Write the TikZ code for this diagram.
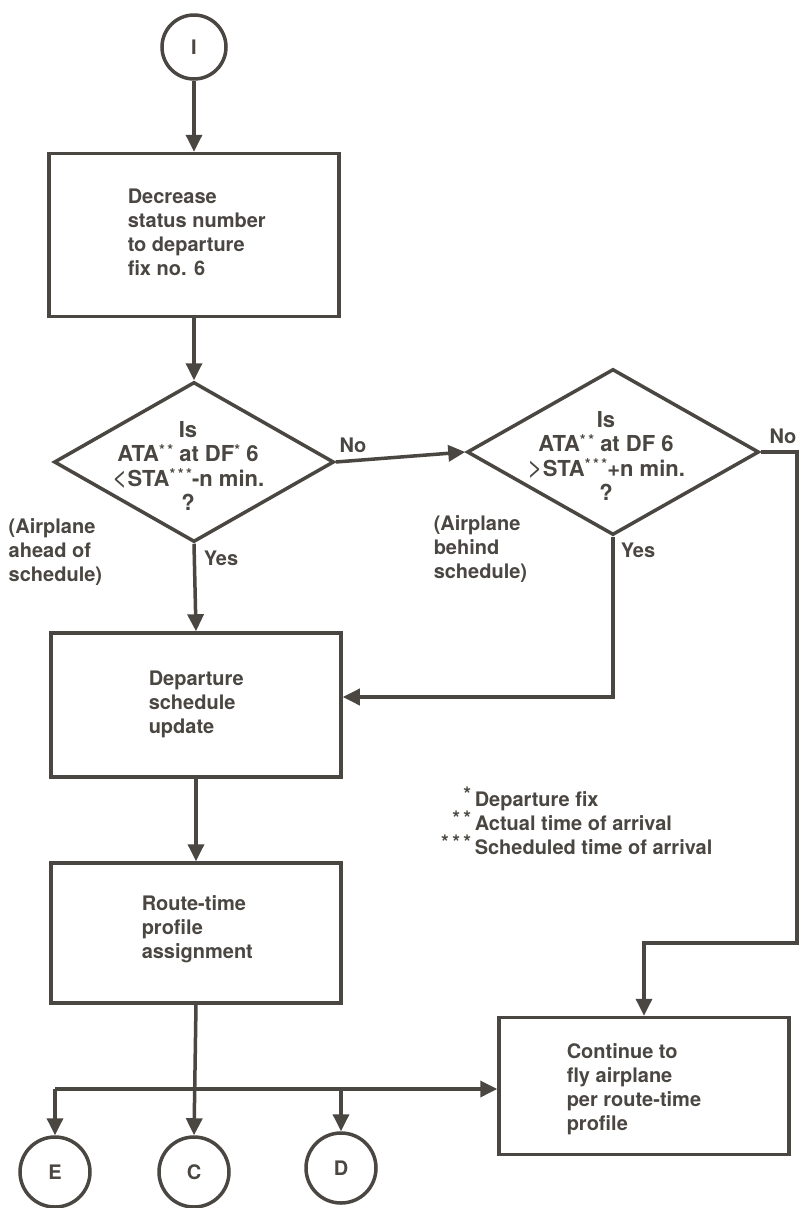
\documentclass[tikz,border=0pt]{standalone}
\usepackage{fontspec}
\setmainfont{TeX Gyre Heros}
\usetikzlibrary{shapes.geometric,arrows.meta}
\definecolor{ink}{HTML}{4A4642}
% small raised asterisks after abbreviations
\newcommand\astr[1]{\raisebox{.3em}{\fontsize{15}{15}\selectfont #1}}
% larger comparison signs
\newcommand\cmpsign[1]{{\mdseries\fontsize{27}{24}\selectfont #1}}
\begin{document}
\begin{tikzpicture}[x=1pt,y=-1pt,
  color=ink, line width=3.5pt,
  font=\bfseries\fontsize{20}{24}\selectfont,
  stepbox/.style={draw, rectangle, inner sep=0pt, minimum width=290pt},
  dia/.style={draw, diamond, inner sep=0pt},
  diatext/.style={inner sep=0pt, align=center, font=\bfseries\fontsize{22}{24.5}\selectfont},
  conn/.style={draw, circle, inner sep=0pt},
  arr/.style={-{Triangle[length=17pt,width=16pt]}},
  txt/.style={inner sep=0pt, align=left, anchor=north west},
  lab/.style={inner sep=0pt}
]
\useasboundingbox[fill=white] (0,0) rectangle (799,1208);

% connectors (circles)
\node[conn, minimum size=64pt] (I) at (194,47) {I};
\node[conn, minimum size=70pt] (E) at (55,1172) {E};
\node[conn, minimum size=70pt] (C) at (194,1172) {C};
\node[conn, minimum size=70pt] (D) at (341,1168) {D};

% process boxes
\node[stepbox, minimum height=163pt] (b1) at (194,235) {};
\node[txt] (b1t) at (126,187) {Decrease\\status number\\to departure\\fix no. 6};
\node[stepbox, minimum height=144pt] (b2) at (196,705) {};
\node[txt] (b2t) at (147,669) {Departure\\schedule\\update};
\node[stepbox, minimum height=140pt] (b3) at (196,933) {};
\node[txt] (b3t) at (140,894) {Route-time\\profile\\assignment};
\node[stepbox, minimum height=137pt] (b4) at (644,1086) {};
\node[txt] (b4t) at (565,1042) {Continue to\\fly airplane\\per route-time\\profile};

% decisions
\node[dia, minimum width=280pt, minimum height=160pt] (d1) at (194,462) {};
\node[diatext] (d1t) at (188,466)
  {Is\\ATA\astr{*\,*} at DF\astr{*} 6\\\cmpsign{<}STA\astr{*\,*\,*}-n min.\\?};
\node[dia, minimum width=292pt, minimum height=166pt] (d2) at (613,452) {};
\node[diatext] (d2t) at (606,456)
  {Is\\ATA\astr{*\,*} at DF 6\\\cmpsign{>}STA\astr{*\,*\,*}+n min.\\?};

% branch labels
\node[lab] (no1) at (353,445) {No};
\node[lab] (no2) at (783,436) {No};
\node[lab] (yes1) at (221,558) {Yes};
\node[lab] (yes2) at (638,550) {Yes};
\node[txt] (ahead) at (7,517) {(Airplane\\ahead of\\schedule)};
\node[txt] (behind) at (432,514) {(Airplane\\behind\\schedule)};

% footnotes
\node[lab, anchor=north west, align=left] (notes) at (473,790)
  {Departure fix\\Actual time of arrival\\Scheduled time of arrival};
\node[lab, anchor=north east, align=right] (stars) at (473,785)
  {*\\*\,*\\*\,*\,*};

% flow lines
\coordinate (nR) at (797,943);
\coordinate (jE) at (55,1089);
\draw[arr] (I.south) -- (b1.north);
\draw[arr] (b1.south) -- (d1.north);
\draw[arr] (d1.east) -- (d2.west);
\draw[arr] (d1.south) -- (b2.north);
\draw[arr] (d2.south) |- ([yshift=8pt]b2.east);
\draw[arr] (d2.east) -- (d2.east -| nR) -- (nR) -- (nR -| b4.north) -- (b4.north);
\draw[arr] (b2.south) -- (b3.north);
\draw[arr] (b3.south) -- (C.north);
\draw[arr] (jE) -- (jE -| b4.west);
\draw[arr] (jE) -- (E.north);
\draw[arr] (jE -| D.north) -- (D.north);
\end{tikzpicture}
\end{document}
